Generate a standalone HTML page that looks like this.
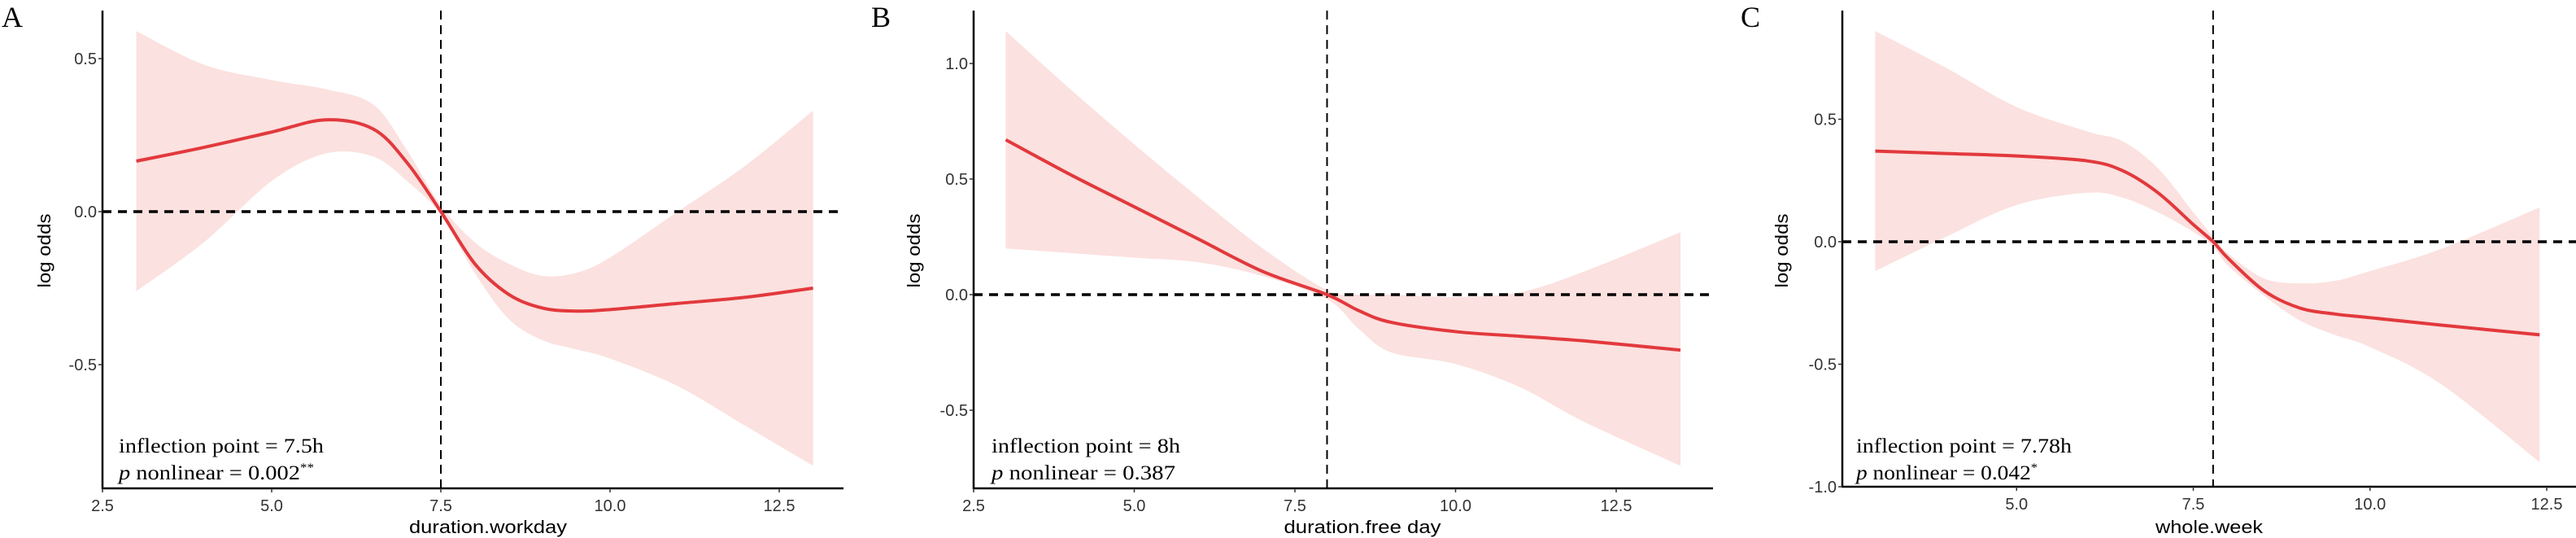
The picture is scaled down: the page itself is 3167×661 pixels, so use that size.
<!DOCTYPE html>
<html><head><meta charset="utf-8"><style>
html,body{margin:0;padding:0;background:#fff;}
svg{display:block;}
.tick{font-family:"Liberation Sans Narrow","Liberation Sans",sans-serif;font-size:20px;fill:#333;}
.ttl{font-family:"Liberation Sans",sans-serif;font-size:22px;fill:#000;}
.ann{font-family:"Liberation Serif",serif;font-size:25px;fill:#000;}
.let{font-family:"Liberation Serif",serif;font-size:36px;fill:#000;}
</style></head><body>
<svg id="chart" width="3167" height="661" viewBox="0 0 3167 661" xmlns="http://www.w3.org/2000/svg"></svg>
<script>
// Panel A data
const aX = [3,4,5,5.8,6.5,7,7.5,8,8.5,9,9.5,10,11,12,13];
const aFit = [0.165,0.21,0.26,0.30,0.27,0.16,0,-0.17,-0.27,-0.315,-0.325,-0.32,-0.30,-0.28,-0.25];
const aUp = [0.59,0.48,0.43,0.40,0.35,0.20,0.02,-0.10,-0.17,-0.21,-0.20,-0.15,0.0,0.15,0.33];
const aLo = [-0.26,-0.10,0.10,0.19,0.18,0.10,-0.01,-0.20,-0.35,-0.42,-0.45,-0.48,-0.57,-0.70,-0.83];
// Panel B data
const bX = [3,4,5,6,7,8,8.5,9,10,11,12,13.5];
const bFit = [0.67,0.52,0.38,0.24,0.10,0,-0.07,-0.12,-0.16,-0.18,-0.20,-0.24];
const bUp = [1.14,0.89,0.65,0.42,0.20,0.02,0.0,0.0,-0.01,0.01,0.10,0.27];
const bLo = [0.20,0.18,0.16,0.14,0.08,-0.02,-0.15,-0.25,-0.30,-0.40,-0.55,-0.74];
// Panel C data
const cX = [3,4,5,6,6.5,7,7.5,7.78,8,8.5,9,9.5,10,11,12.4];
const cFit = [0.37,0.36,0.35,0.33,0.29,0.20,0.07,0,-0.07,-0.20,-0.27,-0.295,-0.31,-0.34,-0.38];
const cUp = [0.86,0.71,0.55,0.45,0.41,0.30,0.12,0.02,-0.05,-0.15,-0.17,-0.16,-0.12,-0.03,0.14];
const cLo = [-0.12,0.02,0.15,0.20,0.18,0.12,0.04,-0.02,-0.10,-0.22,-0.32,-0.38,-0.43,-0.58,-0.90];
// Ticks
const aXTicks = ["2.5","5.0","7.5","10.0","12.5"];
const aYTicks = ["0.5","0.0","-0.5"];
const bXTicks = ["2.5","5.0","7.5","10.0","12.5"];
const bYTicks = ["1.0","0.5","0.0","-0.5"];
const cXTicks = ["5.0","7.5","10.0","12.5"];
const cYTicks = ["0.5","0.0","-0.5","-1.0"];

const NS="http://www.w3.org/2000/svg";
const svg=document.getElementById('chart');
function mk(tag,attrs,parent){const e=document.createElementNS(NS,tag);for(const k in attrs)e.setAttribute(k,attrs[k]);(parent||svg).appendChild(e);return e;}
function segs(pts){let d="";for(let i=0;i<pts.length-1;i++){const p0=pts[Math.max(0,i-1)],p1=pts[i],p2=pts[i+1],p3=pts[Math.min(pts.length-1,i+2)];
 d+=" C"+(p1[0]+(p2[0]-p0[0])/6)+","+(p1[1]+(p2[1]-p0[1])/6)+" "+(p2[0]-(p3[0]-p1[0])/6)+","+(p2[1]-(p3[1]-p1[1])/6)+" "+p2[0]+","+p2[1];}return d;}
function cr(pts){return "M"+pts[0][0]+","+pts[0][1]+segs(pts);}

function panel(cfg){
 const g=mk('g',{});
 
 
 const sx=v=>cfg.x0+(v-cfg.xv0)*cfg.xs, sy=v=>cfg.y0-v*cfg.ys;
 const up=cfg.x.map((v,i)=>[sx(v),sy(cfg.up[i])]);
 const lo=cfg.x.map((v,i)=>[sx(v),sy(cfg.lo[i])]).reverse();
 const band=mk('path',{d:cr(up)+" L"+lo[0][0]+","+lo[0][1]+segs(lo)+" Z",fill:"#fbe1df",stroke:"none"},g);
 
 
 const hl=mk('line',{x1:cfg.axL,x2:cfg.axR,y1:sy(0),y2:sy(0),stroke:"#000","stroke-width":3.5,"stroke-dasharray":"11,8"},g);
 
 
 const vl=mk('line',{x1:sx(cfg.infl),x2:sx(cfg.infl),y1:cfg.axT,y2:cfg.axB,stroke:"#000","stroke-width":2,"stroke-dasharray":"11,7"},g);
 
 
 const fp=cfg.x.map((v,i)=>[sx(v),sy(cfg.fit[i])]);
 const fit=mk('path',{d:cr(fp),fill:"none",stroke:"#e2393d","stroke-width":4},g);
 
 
 const ya=mk('line',{x1:cfg.axL,x2:cfg.axL,y1:cfg.axT,y2:cfg.axB+1,stroke:"#000","stroke-width":2.5},g);
 
 
 const xa=mk('line',{x1:cfg.axL-1,x2:cfg.axR,y1:cfg.axB,y2:cfg.axB,stroke:"#000","stroke-width":2.5},g);
 
 
 cfg.xt.forEach(t=>{const X=sx(parseFloat(t));
  mk('line',{x1:X,x2:X,y1:cfg.axB,y2:cfg.axB+5,stroke:"#333","stroke-width":1.5},g);
  const tx=mk('text',{x:X,y:cfg.axB+28,"text-anchor":"middle",class:"tick"},g);tx.textContent=t;
  
  });
 cfg.yt.forEach(t=>{const Y=sy(parseFloat(t));
  mk('line',{x1:cfg.axL-5,x2:cfg.axL,y1:Y,y2:Y,stroke:"#333","stroke-width":1.5},g);
  const tx=mk('text',{x:cfg.axL-7,y:Y+7,"text-anchor":"end",class:"tick"},g);tx.textContent=t;
  
  });
 const xt=mk('text',{x:cfg.xtx,y:655,"text-anchor":"middle",class:"ttl",textLength:cfg.xtw,lengthAdjust:"spacingAndGlyphs"},g);xt.textContent=cfg.xtitle;
 
 
 const yt=mk('text',{x:0,y:0,"text-anchor":"middle",class:"ttl",textLength:91,lengthAdjust:"spacingAndGlyphs",transform:"translate("+cfg.ytx+",308) rotate(-90)"},g);yt.textContent="log odds";
 
 
 const l=mk('text',{x:cfg.letX,y:33,class:"let"},g);l.textContent=cfg.letter;
 
 
 const a1=mk('text',{x:cfg.annX,y:556,class:"ann",textLength:cfg.a1w,lengthAdjust:"spacingAndGlyphs"},g);a1.textContent=cfg.ann1;
 
 
 const a2=mk('text',{x:cfg.annX,y:589,class:"ann",textLength:cfg.a2w,lengthAdjust:"spacingAndGlyphs"},g);
 
 
 const ts=mk('tspan',{"font-style":"italic"},a2);ts.textContent="p";
 const t2=mk('tspan',{},a2);t2.textContent=" nonlinear = "+cfg.p;
 if(cfg.star){const t3=mk('tspan',{dy:-10,"font-size":"15px"},a2);t3.textContent=cfg.star;}
}
panel({name:"panel-a-workday",x0:126,xv0:2.5,xs:83.2,y0:260,ys:376,axL:126,axR:1037,axT:13,axB:600,infl:7.5,
 x:aX,fit:aFit,up:aUp,lo:aLo,xt:aXTicks,yt:aYTicks,xtitle:"duration.workday",xtw:194,xtx:600,ytx:62,letter:"A",letX:2,annX:146,
 a1w:252,a2w:240,ann1:"inflection point = 7.5h",p:"0.002",star:"**"});
panel({name:"panel-b-free-day",x0:1197,xv0:2.5,xs:79,y0:362,ys:284,axL:1197,axR:2106,axT:13,axB:600,infl:8,
 x:bX,fit:bFit,up:bUp,lo:bLo,xt:bXTicks,yt:bYTicks,xtitle:"duration.free day",xtw:193,xtx:1675,ytx:1131,letter:"B",letX:1071,annX:1219,
 a1w:232,a2w:226,ann1:"inflection point = 8h",p:"0.387",star:""});
panel({name:"panel-c-whole-week",x0:2262,xv0:2.5,xs:86.9,y0:297,ys:301,axL:2265,axR:3167,axT:13,axB:598,infl:7.78,
 x:cX,fit:cFit,up:cUp,lo:cLo,xt:cXTicks,yt:cYTicks,xtitle:"whole.week",xtw:132,xtx:2716,ytx:2198,letter:"C",letX:2140,annX:2282,
 a1w:265,a2w:223,ann1:"inflection point = 7.78h",p:"0.042",star:"*"});
</script>
</body></html>
